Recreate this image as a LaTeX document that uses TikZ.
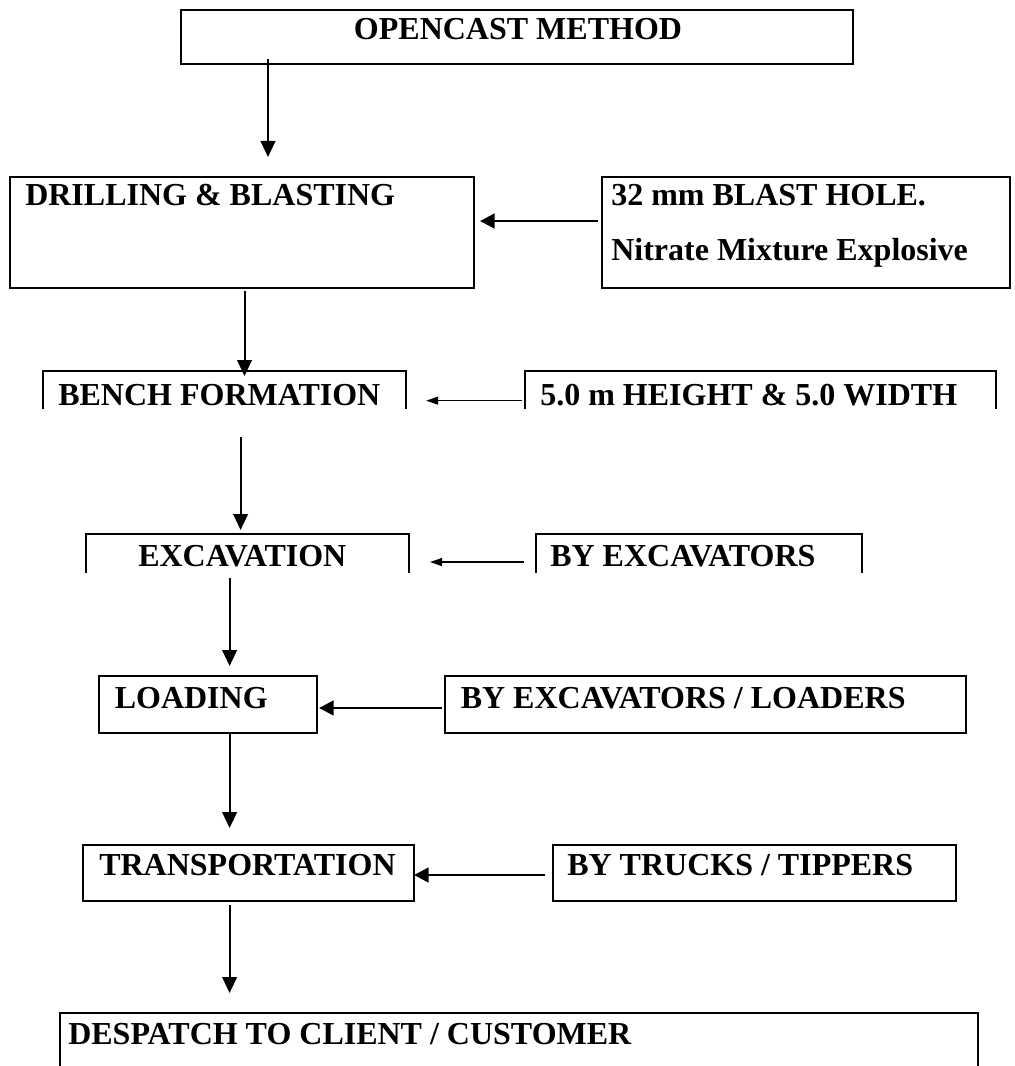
\documentclass[tikz,border=0pt]{standalone}
\usepackage{fontspec}
\setmainfont{Liberation Serif}
\usetikzlibrary{arrows.meta,fit}
\begin{document}
\begin{tikzpicture}[x=0.75pt,y=-0.75pt,
  box/.style={draw=black,line width=1.5pt,inner sep=0pt,outer sep=0pt},
  openbox/.style={inner sep=0pt,outer sep=0pt},
  txt/.style={inner sep=0pt,anchor=base west,font=\fontsize{24}{28}\selectfont\bfseries},
  varr/.style={line width=1.5pt,-{Triangle[length=12pt,width=11pt]}},
  harr/.style={line width=2pt,-{Triangle[length=11pt,width=11pt]}},
  tarr/.style={line width=1pt,-{Triangle[length=9pt,width=6pt]}},
  side/.style={line width=1.5pt}]
\useasboundingbox (0,0) rectangle (1014,1066);
% boxes
\node[box,fit={(181,10) (853,64)}] (open) {};
\node[box,fit={(10,177) (474,288)}] (drill) {};
\node[box,fit={(601.5,177) (1010,288)}] (blast) {};
\node[openbox,fit={(43,371) (405.5,409)}] (bench) {};
\node[openbox,fit={(525,371) (996,409)}] (height) {};
\node[openbox,fit={(86,534) (409,573)}] (excav) {};
\node[openbox,fit={(535.6,534) (861.6,573)}] (byexc) {};
\node[box,fit={(99,676) (317,733)}] (load) {};
\node[box,fit={(445,676) (965.7,733)}] (byload) {};
\node[box,fit={(83,845) (414,901)}] (trans) {};
\node[box,fit={(553,845) (956,901)}] (bytruck) {};
\node[openbox,fit={(59.5,1013) (978,1066)}] (desp) {};
% open-bottom box outlines
\foreach \b in {bench,height,excav,byexc,desp}
  \draw[side] (\b.south west) -- (\b.north west) -- (\b.north east) -- (\b.south east);
% texts
\node[txt,anchor=base] (openT) at (518,40) {OPENCAST METHOD};
\node[txt] (drillT) at (25,206) {DRILLING \& BLASTING};
\node[txt] (blastT1) at (611,206) {32 mm BLAST HOLE.};
\node[txt] (blastT2) at (611,260) {Nitrate Mixture Explosive};
\node[txt] (benchT) at (58,405) {BENCH FORMATION};
\node[txt] (heightT) at (540,405) {5.0 m HEIGHT \& 5.0 WIDTH};
\node[txt] (excavT) at (138,566) {EXCAVATION};
\node[txt] (byexcT) at (550,566) {BY EXCAVATORS};
\node[txt] (loadT) at (114.5,708) {LOADING};
\node[txt] (byloadT) at (460.5,708) {BY EXCAVATORS / LOADERS};
\node[txt] (transT) at (99,875) {TRANSPORTATION};
\node[txt] (bytruckT) at (567,875) {BY TRUCKS / TIPPERS};
\node[txt] (despT) at (68,1044) {DESPATCH TO CLIENT / CUSTOMER};
% vertical connectors
\coordinate (a1) at ([shift={(87,-5)}]open.south west);
\draw[varr,shorten >=15pt] (a1) -- (a1 |- drill.north);
\coordinate (a2) at ([shift={(234.5,3)}]drill.south west);
\draw[varr,shorten >=-3.75pt] (a2) -- (a2 |- bench.north);
\coordinate (a3) at ([shift={(197.6,28)}]bench.south west);
\draw[varr,shorten >=3pt] (a3) -- (a3 |- excav.north);
\coordinate (a4) at ([shift={(143.6,5)}]excav.south west);
\draw[varr,shorten >=7.5pt] (a4) -- (a4 |- load.north);
\coordinate (a5) at ([shift={(130.6,1)}]load.south west);
\draw[varr,shorten >=12.75pt] (a5) -- (a5 |- trans.north);
\coordinate (a6) at ([shift={(146.6,4)}]trans.south west);
\draw[varr,shorten >=15pt] (a6) -- (a6 |- desp.north);
% horizontal connectors
\draw[harr,shorten <=2.6pt,shorten >=4.5pt] ([yshift=8.6pt]blast.west) -- ([yshift=8.6pt]drill.east);
\draw[tarr,shorten <=2.25pt,shorten >=15.5pt] ([yshift=-8pt]height.west) -- ([yshift=-8pt]bench.east);
\draw[tarr,shorten <=8.7pt,shorten >=15.75pt] ([yshift=-6.4pt]byexc.west) -- ([yshift=-6.4pt]excav.east);
\draw[harr,shorten <=2.25pt,shorten >=1.5pt] ([yshift=-2.6pt]byload.west) -- ([yshift=-2.6pt]load.east);
\draw[harr,shorten <=6pt,shorten >=0pt] ([yshift=-1.5pt]bytruck.west) -- ([yshift=-1.5pt]trans.east);
\end{tikzpicture}
\end{document}
